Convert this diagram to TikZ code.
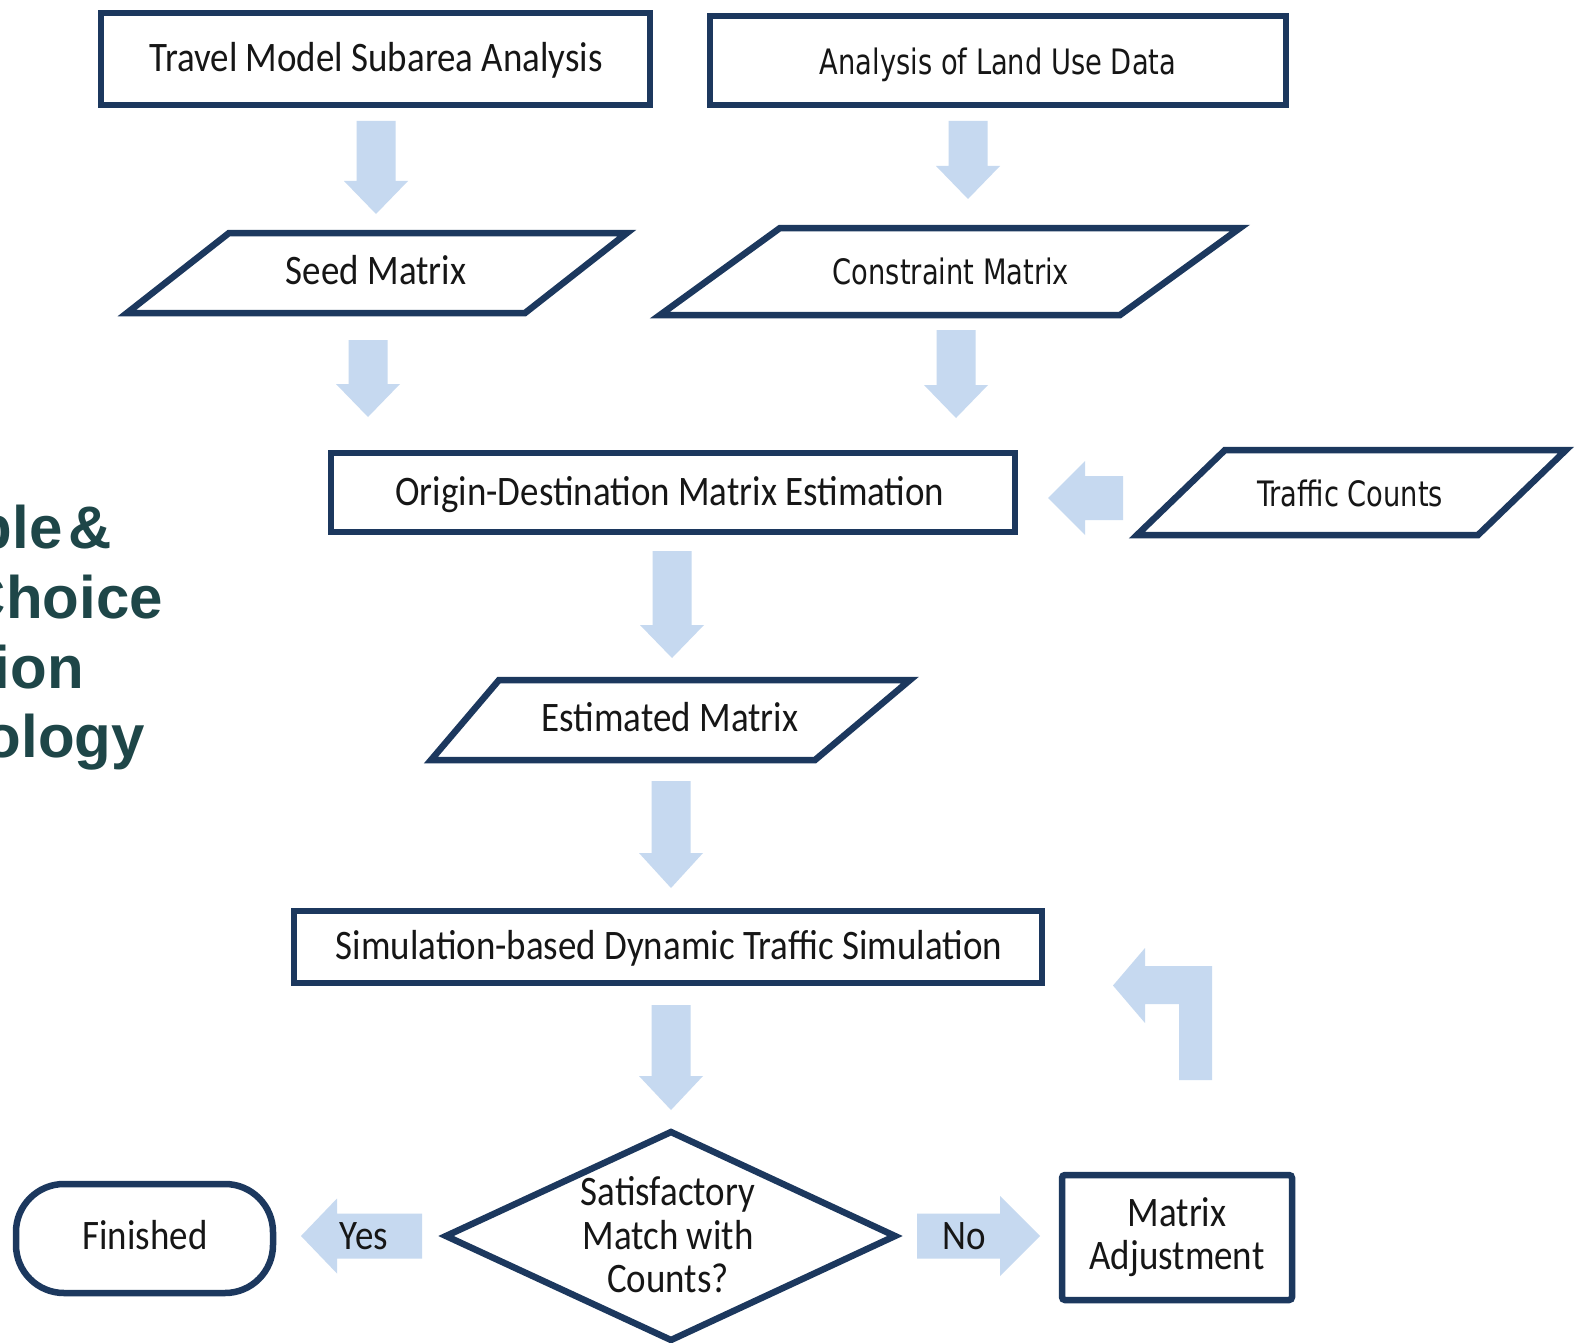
\documentclass[tikz,border=0pt]{standalone}
\usepackage{fontspec}
\newfontfamily\calfont[FakeStretch=0.88]{Carlito}
\newfontfamily\tahfont[FakeStretch=0.78]{DejaVu Sans}
\newfontfamily\headfont[WordSpace=0.35]{Liberation Sans}
\definecolor{navy}{RGB}{28,56,94}
\definecolor{arrowblue}{RGB}{198,217,240}
\definecolor{txt}{RGB}{22,22,22}
\definecolor{sidecol}{RGB}{30,70,72}
\newcommand\dnarrow[4]{% cx, ytop, yhead, ytip
  \fill[blk] (#1-19.5,#2) -- (#1+19.5,#2) -- (#1+19.5,#3) -- (#1+32,#3) -- (#1,#4)
    -- (#1-32,#3) -- (#1-19.5,#3) -- cycle;}
\newcommand\hzarrow[6]{% xstart, xhead, xtip, cy, shaft half, head half
  \fill[blk] (#1,#4-#5) -- (#2,#4-#5) -- (#2,#4-#6) -- (#3,#4) -- (#2,#4+#6)
    -- (#2,#4+#5) -- (#1,#4+#5) -- cycle;}
\tikzset{
  outl/.style={draw=navy, line width=6.5pt, fill=white},
  blk/.style={fill=arrowblue, draw=none},
  lbl/.style={anchor=base, inner sep=0pt, text=txt,
    font=\calfont\fontsize{42}{50}\selectfont},
  lblt/.style={anchor=base, inner sep=0pt, text=txt,
    font=\tahfont\fontsize{35}{42}\selectfont},
  side/.style={anchor=base east, inner sep=0pt, text=sidecol,
    font=\headfont\bfseries\fontsize{60}{70}\selectfont}
}
\begin{document}
\begin{tikzpicture}[x=1pt,y=-1pt]
\useasboundingbox (0,0) rectangle (1576,1343);
\clip (0,0) rectangle (1576,1343);
\fill[white] (0,0) rectangle (1576,1343);

% side title fragment
\node[side] (s1) at (112,548) {ble \&};
\node[side] (s2) at (163,618) {Choice};
\node[side] (s3) at (84,688) {ion};
\node[side] (s4) at (145,757) {ology};

% top boxes
\draw[outl] (101,13) rectangle (650,105);
\node[lbl] (tm) at (376,72) {Travel Model Subarea Analysis};
\draw[outl] (710,16) rectangle (1286,105);
\node[lblt] (lu) at (998,75) {Analysis of Land Use Data};

\dnarrow{376}{121}{181}{214}
\dnarrow{968}{121}{166}{199}

% seed and constraint
\draw[outl] (229,233) -- (627,233) -- (525,313) -- (127,313) -- cycle;
\node[lbl] (seed) at (376,284) {Seed Matrix};
\draw[outl] (780,228) -- (1240,228) -- (1120,315) -- (660,315) -- cycle;
\node[lblt] (cons) at (951,284) {Constraint Matrix};

\dnarrow{368}{340}{384}{417}
\dnarrow{956}{330}{385}{418}

% OD estimation
\draw[outl] (331,453) rectangle (1015,532);
\node[lbl] (od) at (670,505) {Origin-Destination Matrix Estimation};
\draw[outl] (1225,450) -- (1566,450) -- (1478,535) -- (1137,535) -- cycle;
\node[lblt] (tc) at (1350,506) {Traffic Counts};
\hzarrow{1123}{1085}{1048}{498}{22}{37}

\dnarrow{672}{551}{625}{658}

% estimated matrix
\draw[outl] (499,680) -- (910,680) -- (815,760) -- (431,760) -- cycle;
\node[lbl] (est) at (670,731) {Estimated Matrix};

\dnarrow{671}{781}{853}{888}

% simulation
\draw[outl] (294,911) rectangle (1042,983);
\node[lbl] (sim) at (669,959) {Simulation-based Dynamic Traffic Simulation};

\dnarrow{671}{1005}{1076}{1110}

% decision
\draw[outl] (446,1236) -- (671,1132) -- (895,1236) -- (671,1340) -- cycle;
\node[lbl] (d1) at (668,1205) {Satisfactory};
\node[lbl] (d2) at (668,1249) {Match with};
\node[lbl] (d3) at (668,1292) {Counts?};

% yes / finished
\hzarrow{422}{337}{301}{1236}{22.5}{37.5}
\node[lbl] (yes) at (364,1249) {Yes};
\draw[outl, rounded corners=48pt] (16,1184) rectangle (273,1293);
\node[lbl] (fin) at (145,1249) {Finished};

% no / adjustment
\hzarrow{917}{1000}{1040}{1236}{22.5}{40}
\node[lbl] (no) at (964,1249) {No};
\draw[outl, rounded corners=3pt] (1062,1175) rectangle (1292,1300);
\node[lbl] (ma1) at (1177,1226) {Matrix};
\node[lbl] (ma2) at (1177,1269) {Adjustment};

% return arrow
\fill[blk] (1179,1080) -- (1212,1080) -- (1212,966) -- (1145,966) -- (1145,948)
  -- (1113,985.5) -- (1145,1023) -- (1145,1004) -- (1179,1004) -- cycle;
\end{tikzpicture}
\end{document}
